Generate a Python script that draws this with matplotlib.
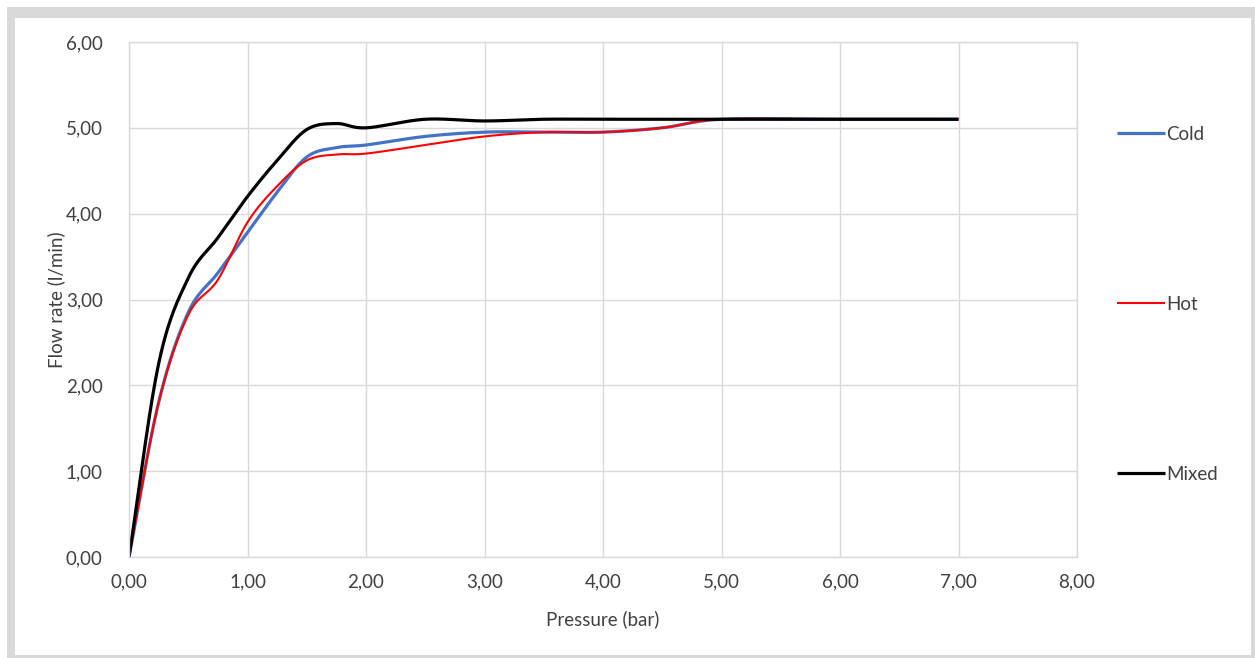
import numpy as np
import matplotlib
matplotlib.use("Agg")
import matplotlib.pyplot as plt
from matplotlib.patches import Rectangle
from matplotlib.ticker import FuncFormatter

# ---- data ----
pressure = [0, 0.25, 0.5, 0.75, 1.0, 1.25, 1.5, 1.75, 2.0, 2.5, 3.0, 3.5, 4.0, 4.5, 5.0, 6.0, 7.0]
cold  = [0, 1.80, 2.85, 3.31, 3.78, 4.25, 4.66, 4.77, 4.80, 4.90, 4.95, 4.95, 4.95, 5.00, 5.10, 5.10, 5.10]
hot   = [0, 1.80, 2.82, 3.23, 3.90, 4.32, 4.62, 4.69, 4.70, 4.80, 4.90, 4.95, 4.95, 5.00, 5.10, 5.10, 5.10]
mixed = [0, 2.25, 3.25, 3.72, 4.20, 4.62, 4.98, 5.05, 5.00, 5.10, 5.08, 5.10, 5.10, 5.10, 5.10, 5.10, 5.10]
series_names = ["Cold", "Hot", "Mixed"]
x_ticks = [0, 1, 2, 3, 4, 5, 6, 7, 8]
y_ticks = [0, 1, 2, 3, 4, 5, 6]


def smooth(x, y, n=30):
    """Catmull-Rom style smoothing similar to Excel's smoothed line."""
    x = np.asarray(x, float)
    y = np.asarray(y, float)
    px = np.concatenate([[2 * x[0] - x[1]], x, [2 * x[-1] - x[-2]]])
    py = np.concatenate([[2 * y[0] - y[1]], y, [2 * y[-1] - y[-2]]])
    xs, ys = [], []
    t = np.linspace(0, 1, n)
    for i in range(1, len(px) - 2):
        p0x, p1x, p2x, p3x = px[i - 1:i + 3]
        p0y, p1y, p2y, p3y = py[i - 1:i + 3]
        c1x = p1x + (p2x - p0x) / 6
        c1y = p1y + (p2y - p0y) / 6
        c2x = p2x - (p3x - p1x) / 6
        c2y = p2y - (p3y - p1y) / 6
        bx = (1 - t) ** 3 * p1x + 3 * (1 - t) ** 2 * t * c1x + 3 * (1 - t) * t ** 2 * c2x + t ** 3 * p2x
        by = (1 - t) ** 3 * p1y + 3 * (1 - t) ** 2 * t * c1y + 3 * (1 - t) * t ** 2 * c2y + t ** 3 * p2y
        xs.append(bx)
        ys.append(by)
    return np.concatenate(xs), np.concatenate(ys)


plt.rcParams["font.family"] = ["Lato", "DejaVu Sans"]
W, H = 1255, 658
FS = 13.5
TXT = "#404040"
fig = plt.figure(figsize=(W / 100, H / 100), dpi=100)
fig.patch.set_facecolor("white")

# outer frame
fig.patches.append(Rectangle((7 / W, 0), 1 - 7 / W, 1 - 7 / H, transform=fig.transFigure,
                             facecolor="#d9d9d9", edgecolor="none", zorder=-10))
fig.patches.append(Rectangle((15 / W, 3 / H), (1251 - 15) / W, (655 - 18) / H, transform=fig.transFigure,
                             facecolor="white", edgecolor="none", zorder=-9))

ax = fig.add_axes([129 / W, 1 - 557 / H, (1077 - 129) / W, (557 - 42) / H])
ax.set_facecolor("none")

colors = ["#4472c4", "#ff0000", "#000000"]
widths = [2.3, 1.5, 2.3]
for name, vals, c, lw in zip(series_names, [cold, hot, mixed], colors, widths):
    sx, sy = smooth(pressure, vals)
    ax.plot(sx, sy, color=c, lw=lw, label=name, solid_capstyle="butt")

ax.set_xlim(0, 8)
ax.set_ylim(0, 6)
ax.set_xticks(x_ticks)
ax.set_yticks(y_ticks)
fmt = FuncFormatter(lambda v, p: f"{v:.2f}".replace(".", ","))
ax.xaxis.set_major_formatter(fmt)
ax.yaxis.set_major_formatter(fmt)
ax.grid(True, color="#d9d9d9", lw=1)
ax.set_axisbelow(True)
for s in ax.spines.values():
    s.set_color("#d9d9d9")
    s.set_linewidth(1)
ax.tick_params(length=0, labelsize=FS, colors=TXT)
ax.tick_params(axis="x", pad=12)
ax.tick_params(axis="y", pad=19)
ax.set_xlabel("Pressure (bar)", fontsize=FS, color=TXT, labelpad=14)
ax.set_ylabel("Flow rate (l/min)", fontsize=FS, color=TXT, labelpad=0)

leg = fig.legend(loc="upper left", bbox_to_anchor=(1100 / W, 1 - 109 / H), frameon=False,
                 handlelength=2.55, handletextpad=0.1, labelspacing=8.15, fontsize=FS,
                 labelcolor=TXT)

fig.savefig("out.png", dpi=100)
